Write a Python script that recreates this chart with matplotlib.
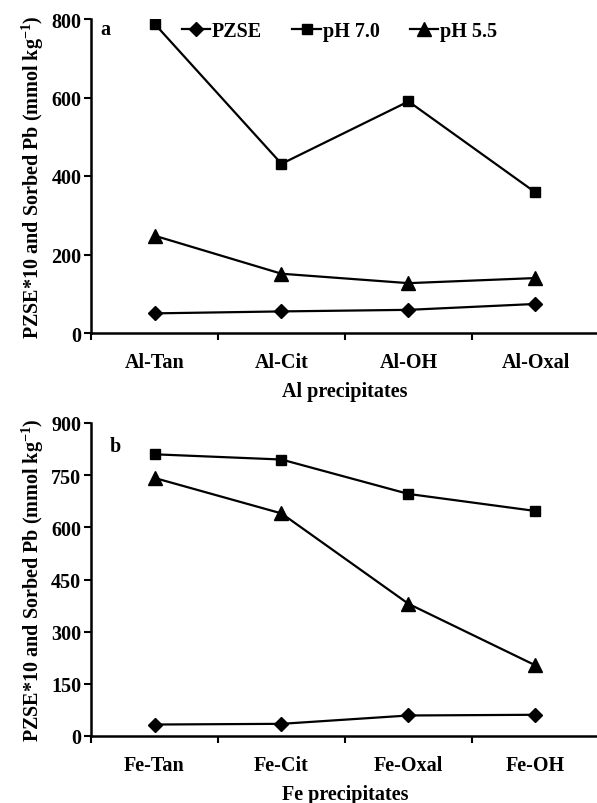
import matplotlib.pyplot as plt
import numpy as np

plt.rcParams['font.family'] = ['Liberation Serif', 'DejaVu Serif']
plt.rcParams['font.weight'] = 'bold'
plt.rcParams['axes.labelweight'] = 'bold'
plt.rcParams['mathtext.default'] = 'regular'

# Panel a: Al precipitates
al_cats = ['Al-Tan', 'Al-Cit', 'Al-OH', 'Al-Oxal']
al_pzse = [50, 55, 59, 74]
al_ph70 = [788, 431, 590, 358]
al_ph55 = [248, 151, 127, 140]

# Panel b: Fe precipitates
fe_cats = ['Fe-Tan', 'Fe-Cit', 'Fe-Oxal', 'Fe-OH']
fe_pzse = [33, 35, 59, 61]
fe_ph70 = [810, 795, 696, 647]
fe_ph55 = [742, 640, 380, 203]

ylabel = 'PZSE*10 and Sorbed Pb (mmol kg$^{-1}$)'

W, H = 597, 804
fig = plt.figure(figsize=(W / 100, H / 100), dpi=100)
ax1 = fig.add_axes([91 / W, 1 - 334 / H, 508 / W, (334 - 20) / H])
ax2 = fig.add_axes([91 / W, 1 - 737 / H, 508 / W, (737 - 424) / H])


def draw(ax, cats, pzse, ph70, ph55, ymax, ystep, xlabel, tag, tagpos):
    x = np.arange(len(cats)) + 0.5
    ax.plot(x, pzse, color='black', lw=1.6, marker='D', ms=7, label='PZSE')
    ax.plot(x, ph70, color='black', lw=1.6, marker='s', ms=7.5, label='pH 7.0')
    ax.plot(x, ph55, color='black', lw=1.6, marker='^', ms=9.5, label='pH 5.5')
    ax.set_xlim(0, len(cats))
    ax.set_ylim(0, ymax)
    ax.set_yticks(np.arange(0, ymax + 1, ystep))
    ax.set_xticks(np.arange(len(cats) + 1))
    ax.set_xticklabels([])
    ax.set_xticks(x, minor=True)
    ax.set_xticklabels(cats, minor=True)
    ax.tick_params(axis='x', which='minor', length=0, pad=14, labelsize=14.5)
    ax.tick_params(axis='x', which='major', length=5, width=1.5, direction='out')
    ax.tick_params(axis='y', length=5, width=1.5, direction='out', labelsize=14.5, pad=2)
    for s in ['top', 'right']:
        ax.spines[s].set_visible(False)
    for s in ['left', 'bottom']:
        ax.spines[s].set_linewidth(1.8)
    ax.set_xlabel(xlabel, fontsize=14.5, labelpad=6)
    ax.set_ylabel(ylabel, fontsize=14.5, labelpad=4)
    ax.text(tagpos[0], tagpos[1], tag, transform=ax.transAxes, fontsize=14.5,
            va='top', ha='left')


draw(ax1, al_cats, al_pzse, al_ph70, al_ph55, 800, 200, 'Al precipitates', 'a', (0.018, 1.0))
draw(ax2, fe_cats, fe_pzse, fe_ph70, fe_ph55, 900, 150, 'Fe precipitates', 'b', (0.037, 0.96))

ax1.legend(loc='upper left', bbox_to_anchor=(0.179, 0.995), ncol=3, frameon=False,
           fontsize=14.5, handlelength=1.4, handletextpad=0.1, columnspacing=1.5,
           borderpad=0, borderaxespad=0)

fig.savefig('out.png', dpi=100)
